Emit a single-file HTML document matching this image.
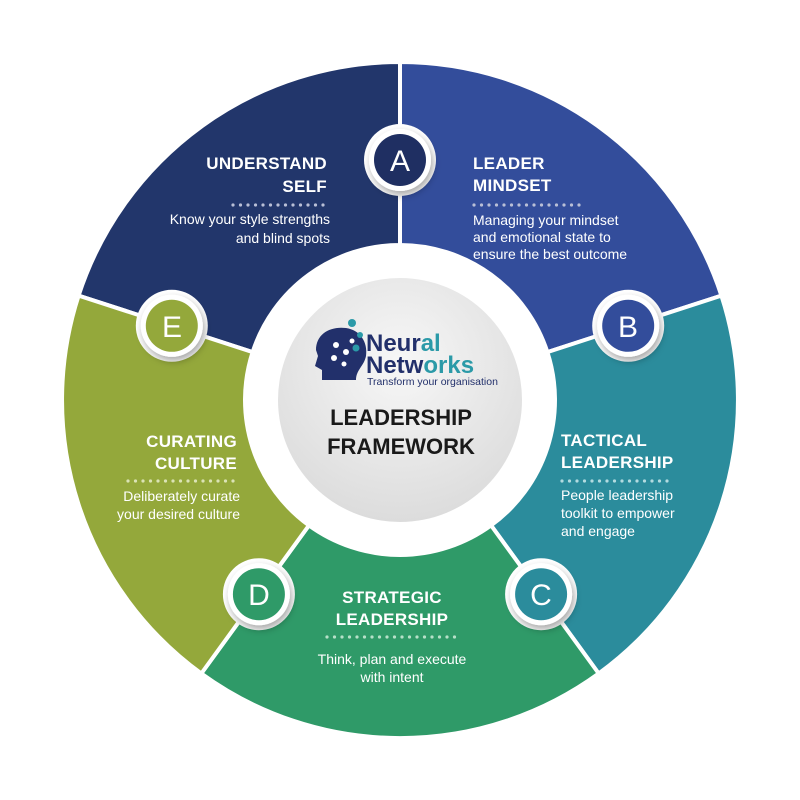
<!DOCTYPE html>
<html><head><meta charset="utf-8"><style>
html,body{margin:0;padding:0;background:#fff}
svg{display:block}
.t{font-family:"Liberation Sans",sans-serif;font-weight:bold;font-size:17px;fill:#fff;letter-spacing:0.3px}
.d{font-family:"Liberation Sans",sans-serif;font-size:14px;fill:#fff}
.l{font-family:"Liberation Sans",sans-serif;font-size:30px;fill:#fff}
</style></head><body>
<svg width="800" height="800" viewBox="0 0 800 800">
<defs>
<radialGradient id="cg" cx="50%" cy="35%" r="70%"><stop offset="0" stop-color="#f7f7f7"/><stop offset="1" stop-color="#dadada"/></radialGradient>
<filter id="sh" x="-50%" y="-50%" width="200%" height="200%"><feDropShadow dx="2" dy="4" stdDeviation="4" flood-color="#000" flood-opacity="0.35"/></filter>
</defs>
<g stroke="#fff" stroke-width="4">
<path d="M78.6,295.6 A338,338 0 0 1 400,62 L400,245 A155,155 0 0 0 252.6,352.1 Z" fill="#22366b"/>
<path d="M400,62 A338,338 0 0 1 721.4,295.6 L547.4,352.1 A155,155 0 0 0 400,245 Z" fill="#334d9b"/>
<path d="M721.4,295.6 A338,338 0 0 1 598.7,673.5 L491.1,525.4 A155,155 0 0 0 547.4,352.1 Z" fill="#2b8c9c"/>
<path d="M598.7,673.5 A338,338 0 0 1 201.3,673.5 L308.9,525.4 A155,155 0 0 0 491.1,525.4 Z" fill="#2f9a68"/>
<path d="M201.3,673.5 A338,338 0 0 1 78.6,295.6 L252.6,352.1 A155,155 0 0 0 308.9,525.4 Z" fill="#94a83b"/>
</g>
<circle cx="400" cy="400" r="155" fill="#fff"/>
<circle cx="400" cy="400" r="122" fill="url(#cg)"/>
<g>
<circle cx="400" cy="160" r="36" fill="#fff"/>
<circle cx="628.2" cy="325.8" r="36" fill="#fff"/>
<circle cx="541.1" cy="594.2" r="36" fill="#fff"/>
<circle cx="258.9" cy="594.2" r="36" fill="#fff"/>
<circle cx="171.8" cy="325.8" r="36" fill="#fff"/>
</g>
<g filter="url(#sh)">
<circle cx="400" cy="160" r="31" fill="#fff"/>
<circle cx="628.2" cy="325.8" r="31" fill="#fff"/>
<circle cx="541.1" cy="594.2" r="31" fill="#fff"/>
<circle cx="258.9" cy="594.2" r="31" fill="#fff"/>
<circle cx="171.8" cy="325.8" r="31" fill="#fff"/>
</g>
<circle cx="400" cy="160" r="26" fill="#1f2f62"/>
<circle cx="628.2" cy="325.8" r="26" fill="#334d9b"/>
<circle cx="541.1" cy="594.2" r="26" fill="#2b8c9c"/>
<circle cx="258.9" cy="594.2" r="26" fill="#2f9a68"/>
<circle cx="171.8" cy="325.8" r="26" fill="#94a83b"/>
<g text-anchor="middle">
<text class="l" x="400" y="171">A</text>
<text class="l" x="628" y="337">B</text>
<text class="l" x="541" y="605">C</text>
<text class="l" x="259" y="605">D</text>
<text class="l" x="172" y="337">E</text>
</g>
<g text-anchor="end">
<text class="t" x="327" y="169">UNDERSTAND</text>
<text class="t" x="327" y="192">SELF</text>
<text class="d" x="330" y="224">Know your style strengths</text>
<text class="d" x="330" y="243">and blind spots</text>
<text class="t" x="237" y="447">CURATING</text>
<text class="t" x="237" y="469">CULTURE</text>
<text class="d" x="240" y="501">Deliberately curate</text>
<text class="d" x="240" y="519">your desired culture</text>
</g>
<g stroke="#b9bfd6" stroke-width="3.2" stroke-linecap="round" stroke-dasharray="0 7.5" fill="none">
<line x1="233" y1="205" x2="327" y2="205"/>
<line x1="474" y1="205" x2="583" y2="205"/>
<line x1="562" y1="481" x2="672" y2="481" stroke="#b3dbe0"/>
<line x1="327" y1="637" x2="457" y2="637" stroke="#b6e0c8"/>
<line x1="128" y1="481" x2="237" y2="481" stroke="#dbe3b5"/>
</g>
<text class="t" x="473" y="169">LEADER</text>
<text class="t" x="473" y="191">MINDSET</text>
<text class="d" x="473" y="225">Managing your mindset</text>
<text class="d" x="473" y="242">and emotional state to</text>
<text class="d" x="473" y="259">ensure the best outcome</text>
<text class="t" x="561" y="446">TACTICAL</text>
<text class="t" x="561" y="468">LEADERSHIP</text>
<text class="d" x="561" y="500">People leadership</text>
<text class="d" x="561" y="518">toolkit to empower</text>
<text class="d" x="561" y="536">and engage</text>
<g text-anchor="middle">
<text class="t" x="392" y="603">STRATEGIC</text>
<text class="t" x="392" y="625">LEADERSHIP</text>
<text class="d" x="392" y="664">Think, plan and execute</text>
<text class="d" x="392" y="682">with intent</text>
</g>
<path d="M322,380 L322,370 L315,366 L318,356 L316,350 C316,334 330,326 346,328 C360,330 368,342 366,356 C364,366 356,370 356,380 Z" fill="#22306b"/>
<g fill="#fff"><circle cx="336" cy="345" r="3"/><circle cx="346" cy="352" r="3"/><circle cx="334" cy="358" r="3"/><circle cx="344" cy="364" r="2.5"/><circle cx="352" cy="341" r="2.5"/></g>
<g fill="#2b9aa8"><circle cx="352" cy="323" r="4"/><circle cx="360" cy="335" r="3"/><circle cx="356" cy="348" r="3.5"/></g>
<text x="366" y="351" font-family="Liberation Sans,sans-serif" font-weight="bold" font-size="24" fill="#22306b">Neur<tspan fill="#2b9aa8">al</tspan></text>
<text x="366" y="373" font-family="Liberation Sans,sans-serif" font-weight="bold" font-size="24" fill="#22306b">Netw<tspan fill="#2b9aa8">orks</tspan></text>
<text x="367" y="385" font-family="Liberation Sans,sans-serif" font-size="10.5" fill="#22306b">Transform your organisation</text>
<g text-anchor="middle" font-family="Liberation Sans,sans-serif" font-weight="bold" font-size="22" fill="#1a1a1a">
<text x="401" y="425">LEADERSHIP</text>
<text x="401" y="454">FRAMEWORK</text>
</g>
</svg>
</body></html>
